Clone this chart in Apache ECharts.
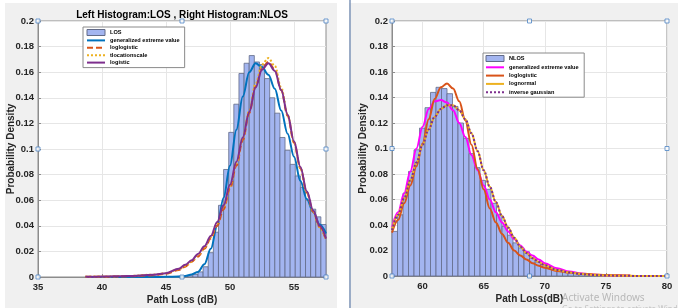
<!DOCTYPE html>
<html><head><meta charset="utf-8">
<script src="https://cdn.jsdelivr.net/npm/echarts@6/dist/echarts.min.js"></script>
<style>html,body{margin:0;padding:0;background:#fff}#c{width:678px;height:308px}</style>
</head><body><div id="c"></div><script>
// ---------- DATA ----------
const titleText = 'Left Histogram:LOS , Right Histogram:NLOS';
const losTicks = [35, 40, 45, 50, 55];
const nlosTicks = [60, 65, 70, 75, 80];

const losBinWidth = 0.4;
const losBinCenters = [46.1,46.5,46.9,47.3,47.7,48.1,48.5,48.9,49.3,49.7,50.1,50.5,50.9,51.3,51.7,52.1,52.5,52.9,53.3,53.7,54.1,54.5,54.9,55.3,55.7,56.1,56.5,56.9,57.3];
const losHeights = [0.0005,0.0008,0.001,0.002,0.004,0.008,0.019,0.035,0.056,0.084,0.113,0.135,0.159,0.167,0.173,0.168,0.166,0.155,0.140,0.128,0.109,0.099,0.088,0.079,0.070,0.060,0.053,0.047,0.041];

const losCurveX = [38.7,40,42,44,45,46,46.5,47,47.5,48,48.5,49,49.5,50,50.5,51,51.5,52,52.5,53,53.5,54,54.5,55,55.5,56,56.5,57,57.5];
const losGevY = [0,0,0,0,0.0001,0.0003,0.0008,0.002,0.004,0.010,0.022,0.040,0.062,0.087,0.115,0.141,0.160,0.167,0.164,0.158,0.147,0.130,0.112,0.094,0.075,0.061,0.051,0.041,0.034];
const losLoglogY = [0.0001,0.0002,0.0005,0.0013,0.0025,0.0055,0.008,0.012,0.016,0.022,0.030,0.040,0.053,0.069,0.087,0.107,0.128,0.149,0.163,0.168,0.162,0.146,0.126,0.105,0.085,0.066,0.051,0.039,0.029];
const losTlocY = [0.0002,0.0004,0.0008,0.0018,0.003,0.006,0.0085,0.012,0.017,0.023,0.031,0.042,0.055,0.071,0.089,0.109,0.130,0.151,0.166,0.171,0.165,0.148,0.127,0.105,0.085,0.066,0.051,0.039,0.029];
const losLogisticY = [0.0002,0.0003,0.0007,0.0017,0.003,0.0065,0.0095,0.013,0.018,0.024,0.032,0.043,0.056,0.072,0.090,0.109,0.129,0.148,0.162,0.167,0.161,0.146,0.127,0.106,0.086,0.067,0.052,0.040,0.030];

const nlosBinWidth = 0.45;
const nlosBinCenters = [57.725,58.175,58.625,59.075,59.525,59.975,60.425,60.875,61.325,61.775,62.225,62.675,63.125,63.575,64.025,64.475,64.925,65.375,65.825,66.275,66.725,67.175,67.625,68.075,68.525,68.975,69.425,69.875,70.325,70.775,71.225,71.675,72.125,72.575,73.025,73.475,73.925,74.375,74.825];
const nlosHeights = [0.035,0.048,0.065,0.082,0.099,0.116,0.132,0.144,0.148,0.147,0.143,0.133,0.120,0.108,0.096,0.085,0.075,0.068,0.057,0.048,0.039,0.032,0.026,0.022,0.019,0.014,0.011,0.009,0.007,0.0055,0.0045,0.0035,0.0025,0.002,0.0015,0.001,0.0007,0.0005,0.0003];

const nlosCurveX = [57.5,58,58.5,59,59.5,60,60.5,61,61.5,62,62.5,63,63.5,64,64.5,65,65.5,66,66.5,67,67.5,68,68.5,69,69.5,70,71,72,73,74,75,76,77,78,79,80];
const nlosGevY = [0.038,0.050,0.065,0.082,0.100,0.117,0.131,0.137,0.138,0.136,0.130,0.120,0.109,0.095,0.083,0.071,0.060,0.050,0.042,0.035,0.029,0.024,0.019,0.016,0.013,0.010,0.006,0.0035,0.002,0.001,0.0006,0.0003,0.0001,null,null,null];
const nlosLoglogY = [0.034,0.044,0.057,0.071,0.086,0.104,0.123,0.139,0.148,0.151,0.147,0.137,0.122,0.103,0.084,0.068,0.053,0.042,0.033,0.026,0.020,0.016,0.013,0.010,0.008,0.0065,0.004,0.0027,0.0018,0.0012,0.0008,0.0005,0.0003,null,null,null];
const nlosLognY = [0.036,0.048,0.061,0.075,0.089,0.103,0.115,0.125,0.131,0.134,0.134,0.130,0.123,0.112,0.098,0.083,0.070,0.058,0.047,0.038,0.030,0.023,0.018,0.014,0.011,0.0085,0.0048,0.0027,0.0015,0.0008,0.0004,0.0002,0.0001,0.00005,0.00002,0];
const nlosInvGaussY = [0.036,0.048,0.061,0.075,0.089,0.103,0.115,0.125,0.131,0.134,0.134,0.130,0.123,0.112,0.098,0.083,0.070,0.058,0.047,0.038,0.030,0.023,0.018,0.014,0.011,0.0085,0.0048,0.0027,0.0015,0.0008,0.0004,0.0002,0.0001,0.00005,0.00002,0];

// ---------- CHART ----------
const FONT = '"Liberation Sans", Arial, sans-serif';
const BAR_FILL = '#a3b5f0', BAR_EDGE = '#626b88';
const AXIS_C = '#8c8c8c', GRID_C = '#e6e6e6', TXT = '#262626';

function zip(xs, ys) { return xs.map((x, i) => [x, ys[i]]); }
function bins(cs, hs, w) { return cs.map((c, i) => [c, hs[i], w]); }
function histRender(params, api) {
  const c = api.value(0), h = api.value(1), w = api.value(2);
  const p0 = api.coord([c - w / 2, h]);
  const p1 = api.coord([c + w / 2, 0]);
  return { type: 'rect', shape: { x: p0[0], y: p0[1], width: p1[0] - p0[0], height: p1[1] - p0[1] },
    style: { fill: BAR_FILL, stroke: BAR_EDGE, lineWidth: 0.8 } };
}
function xAx(idx, min, max, ticks, name) {
  return { type: 'value', gridIndex: idx, min: min, max: max,
    name: name, nameLocation: 'middle', nameGap: 18, nameMoveOverlap: false,
    nameTextStyle: { fontFamily: FONT, fontWeight: 'bold', fontSize: 10, color: TXT },
    axisLine: { lineStyle: { color: AXIS_C, width: 1 } },
    axisTick: { inside: true, length: 3, customValues: ticks, lineStyle: { color: AXIS_C } },
    axisLabel: { customValues: ticks, margin: 5, fontFamily: FONT, fontWeight: 'bold', fontSize: 9.5, color: TXT },
    splitLine: { show: true, lineStyle: { color: GRID_C, width: 1 } } };
}
function yAx(idx, gap) {
  return { type: 'value', gridIndex: idx, min: 0, max: 0.2, interval: 0.02,
    name: 'Probability Density', nameLocation: 'middle', nameGap: gap, nameMoveOverlap: false,
    nameTextStyle: { fontFamily: FONT, fontWeight: 'bold', fontSize: 10, color: TXT },
    axisLine: { show: true, lineStyle: { color: AXIS_C, width: 1 } },
    axisTick: { show: true, inside: true, length: 3, lineStyle: { color: AXIS_C } },
    axisLabel: { margin: 4, fontFamily: FONT, fontWeight: 'bold', fontSize: 9.5, color: TXT,
      formatter: v => String(+v.toFixed(2)) },
    splitLine: { show: true, lineStyle: { color: GRID_C, width: 1 } } };
}
function line(name, xi, xs, ys, color, type, z) {
  return { type: 'line', name: name, xAxisIndex: xi, yAxisIndex: xi, data: zip(xs, ys),
    showSymbol: false, symbol: 'none', smooth: 0.35, smoothMonotone: 'x', z: z,
    lineStyle: { color: color, width: 2, type: type }, itemStyle: { color: color } };
}
const legendText = { fontFamily: FONT, fontWeight: 'bold', fontSize: 5.6, color: '#000' };
const barLegend = (n) => ({ name: n, icon: 'rect', itemStyle: { color: BAR_FILL, borderColor: BAR_EDGE, borderWidth: 1, opacity: 1 } });
const lineLegend = (n) => ({ name: n, itemStyle: { opacity: 0 } });

const handleStyle = { type: 'scatter', symbol: 'rect', symbolSize: 4, clip: false, silent: true, z: 10,
  itemStyle: { color: '#ffffff', borderColor: '#4d86c6', borderWidth: 1 } };

const chart = echarts.init(document.getElementById('c'), null, { renderer: 'canvas' });
chart.setOption({
  backgroundColor: '#f0f0f0',
  animation: false,
  textStyle: { fontFamily: FONT },
  title: { text: titleText, left: 177, textAlign: 'center', top: 5,
    textStyle: { fontFamily: FONT, fontWeight: 'bold', fontSize: 10, color: '#000' } },
  graphic: [
    { type: 'rect', z: -10, silent: true, shape: { x: 0, y: 0, width: 678, height: 3 }, style: { fill: '#ffffff' } },
    { type: 'rect', z: -10, silent: true, shape: { x: 0, y: 0, width: 5, height: 308 }, style: { fill: '#ffffff' } },
    { type: 'rect', z: -10, silent: true, shape: { x: 337, y: 0, width: 12, height: 308 }, style: { fill: '#ffffff' } },
    { type: 'line', z: -5, silent: true, shape: { x1: 350, y1: 0, x2: 350, y2: 308 }, style: { stroke: '#7f96b8', lineWidth: 1.5 } },
    { type: 'text', z: 100, silent: true, left: 562, top: 293,
      style: { text: 'Activate Windows', fill: '#b8b8b8', font: '10px "Noto Sans", sans-serif' } },
    { type: 'text', z: 100, silent: true, left: 562, top: 306,
      style: { text: 'Go to Settings to activate Windows.', fill: '#c4c4c4', font: '8px "Noto Sans", sans-serif' } }
  ],
  grid: [
    { left: 38, top: 21, width: 288, height: 256, outerBoundsMode: 'none', show: true, backgroundColor: '#ffffff', borderColor: AXIS_C, borderWidth: 1 },
    { left: 392, top: 21, width: 275, height: 255, outerBoundsMode: 'none', show: true, backgroundColor: '#ffffff', borderColor: AXIS_C, borderWidth: 1 }
  ],
  xAxis: [ xAx(0, 35, 57.5, losTicks, 'Path Loss (dB)'), xAx(1, 57.5, 80, nlosTicks, 'Path Loss(dB)') ],
  yAxis: [ yAx(0, 22), yAx(1, 24) ],
  legend: [
    { left: 83, top: 27, orient: 'vertical', itemWidth: 18, itemHeight: 6, itemGap: 1.4,
      padding: [2, 5, 2, 3], backgroundColor: '#ffffff', borderColor: '#8a8a8a', borderWidth: 1,
      selectedMode: false, textStyle: legendText,
      data: [barLegend('LOS'), lineLegend('generalized extreme value'), lineLegend('loglogistic'), lineLegend('tlocationscale'), lineLegend('logistic')] },
    { left: 483, top: 53, orient: 'vertical', itemWidth: 18, itemHeight: 6, itemGap: 2.3,
      padding: [2, 4, 2, 2], backgroundColor: '#ffffff', borderColor: '#8a8a8a', borderWidth: 1,
      selectedMode: false, textStyle: legendText,
      data: [barLegend('NLOS'), lineLegend('generalized extreme value '), lineLegend('loglogistic '), lineLegend('lognormal'), lineLegend('inverse gaussian')] }
  ],
  series: [
    { type: 'custom', name: 'LOS', xAxisIndex: 0, yAxisIndex: 0, renderItem: histRender,
      data: bins(losBinCenters, losHeights, losBinWidth), encode: { x: 0, y: 1 }, itemStyle: { color: BAR_FILL }, z: 2 },
    line('generalized extreme value', 0, losCurveX, losGevY, '#0072BD', 'solid', 3),
    line('loglogistic', 0, losCurveX, losLoglogY, '#D95319', [6, 3], 4),
    line('tlocationscale', 0, losCurveX, losTlocY, '#EDB120', [2, 2], 5),
    line('logistic', 0, losCurveX, losLogisticY, '#7E2F8E', 'solid', 6),

    { type: 'custom', name: 'NLOS', xAxisIndex: 1, yAxisIndex: 1, renderItem: histRender,
      data: bins(nlosBinCenters, nlosHeights, nlosBinWidth), encode: { x: 0, y: 1 }, itemStyle: { color: BAR_FILL }, z: 2 },
    line('generalized extreme value ', 1, nlosCurveX, nlosGevY, '#FF00FF', 'solid', 3),
    line('loglogistic ', 1, nlosCurveX, nlosLoglogY, '#D95319', 'solid', 4),
    line('lognormal', 1, nlosCurveX, nlosLognY, '#EDB120', 'solid', 5),
    line('inverse gaussian', 1, nlosCurveX, nlosInvGaussY, '#7E2F8E', [2, 2], 6),

    Object.assign({}, handleStyle, { xAxisIndex: 0, yAxisIndex: 0,
      data: [[35,0],[46.25,0],[57.5,0],[35,0.1],[57.5,0.1],[35,0.2],[46.25,0.2],[57.5,0.2]] }),
    Object.assign({}, handleStyle, { xAxisIndex: 1, yAxisIndex: 1,
      data: [[57.5,0],[68.75,0],[80,0],[57.5,0.1],[80,0.1],[57.5,0.2],[68.75,0.2],[80,0.2]] })
  ]
});
</script></body></html>
